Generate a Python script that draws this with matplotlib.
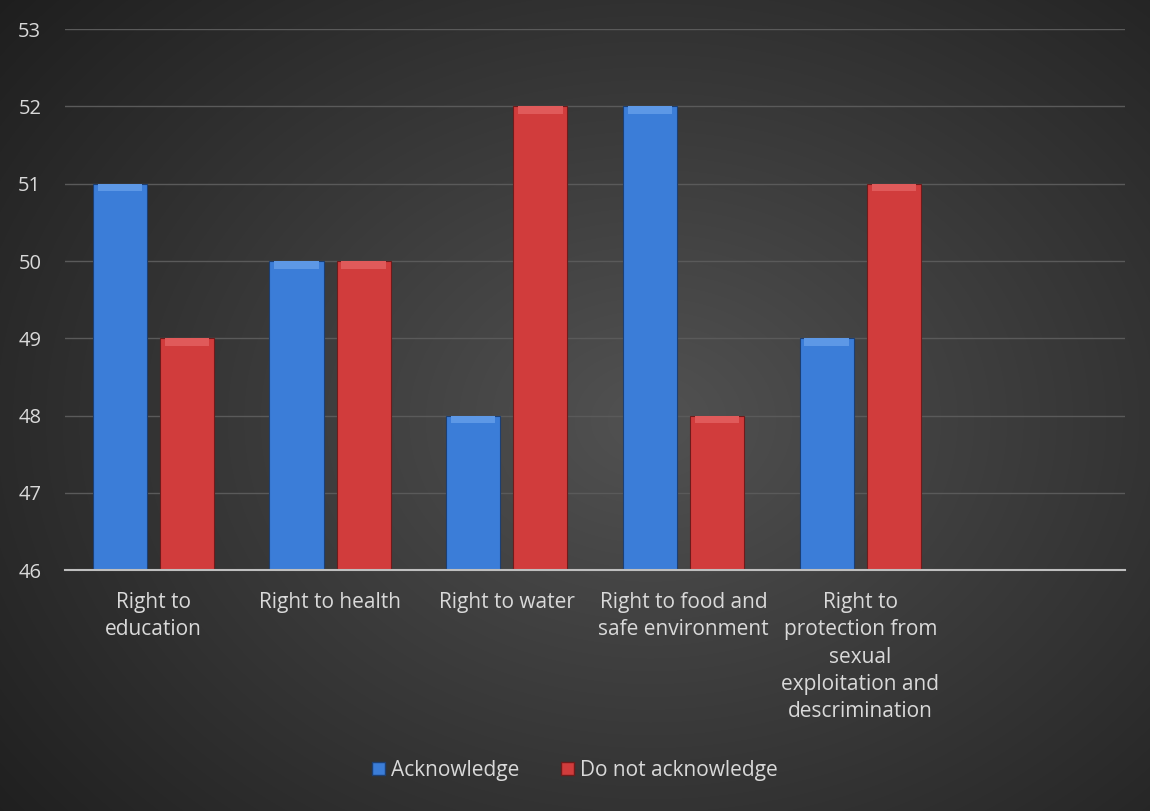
import numpy as np
import matplotlib
matplotlib.use('Agg')
import matplotlib.pyplot as plt
from matplotlib.patches import Patch

categories = ['Right to\neducation', 'Right to health', 'Right to water',
              'Right to food and\nsafe environment',
              'Right to\nprotection from\nsexual\nexploitation and\ndescrimination', '']
acknowledge = [51, 50, 48, 52, 49, np.nan]
not_acknowledge = [49, 50, 52, 48, 51, np.nan]
series_names = ['Acknowledge', 'Do not acknowledge']

plt.rcParams['font.family'] = ['Open Sans', 'DejaVu Sans']
txt = '#d9d9d9'

fig = plt.figure(figsize=(11.5, 8.11), dpi=100)

# radial dark background
bg = fig.add_axes([0, 0, 1, 1], zorder=-10)
yy, xx = np.mgrid[0:811, 0:1150]
r = np.sqrt(((xx - 650) / 800.0) ** 2 + ((yy - 420) / 620.0) ** 2)
shade = np.clip(0.32 - 0.19 * r, 0.12, 0.32)
bg.imshow(np.dstack([shade] * 3), aspect='auto', extent=[0, 1, 0, 1])
bg.axis('off')

ax = fig.add_axes([0.0565, 0.297, 0.922, 0.667])
ax.set_facecolor('none')

x = np.arange(len(categories))
w = 0.306
off = 0.19
ax.bar(x - off, np.array(acknowledge) - 46, w, bottom=46, color='#3b7dd8',
       edgecolor='#1c3f73', linewidth=0.8, zorder=3)
ax.bar(x + off, np.array(not_acknowledge) - 46, w, bottom=46, color='#d13c3c',
       edgecolor='#6e1b1b', linewidth=0.8, zorder=3)
# soft bevel on the top of each bar
ax.bar(x - off, [0.1] * len(x), w * 0.82, bottom=np.array(acknowledge) - 0.1,
       color='#5d98e6', linewidth=0, zorder=4)
ax.bar(x + off, [0.1] * len(x), w * 0.82, bottom=np.array(not_acknowledge) - 0.1,
       color='#e05a5a', linewidth=0, zorder=4)

ax.set_ylim(46, 53)
ax.set_xlim(-0.5, 5.5)
ax.set_yticks(range(46, 54))
ax.set_xticks(x)
ax.set_xticklabels(categories, fontsize=15, color=txt, linespacing=1.38)
ax.tick_params(axis='y', labelsize=14.5, labelcolor=txt, length=0, pad=17)
ax.tick_params(axis='x', length=0, pad=16)
ax.grid(axis='y', color='#5a5a5a', linewidth=1, zorder=0)
for s in ['top', 'right', 'left']:
    ax.spines[s].set_visible(False)
ax.spines['bottom'].set_color('#bfbfbf')
ax.spines['bottom'].set_linewidth(1.5)
ax.spines['bottom'].set_zorder(5)

handles = [Patch(facecolor='#3b7dd8', edgecolor='#1c3f73'),
           Patch(facecolor='#d13c3c', edgecolor='#6e1b1b')]
fig.legend(handles, series_names, loc='center', bbox_to_anchor=(0.5, 0.05),
           ncol=2, frameon=False, fontsize=15, labelcolor=txt,
           handlelength=0.6, handleheight=0.6, handletextpad=0.3, columnspacing=2.0)

fig.savefig('out.png', dpi=100)
